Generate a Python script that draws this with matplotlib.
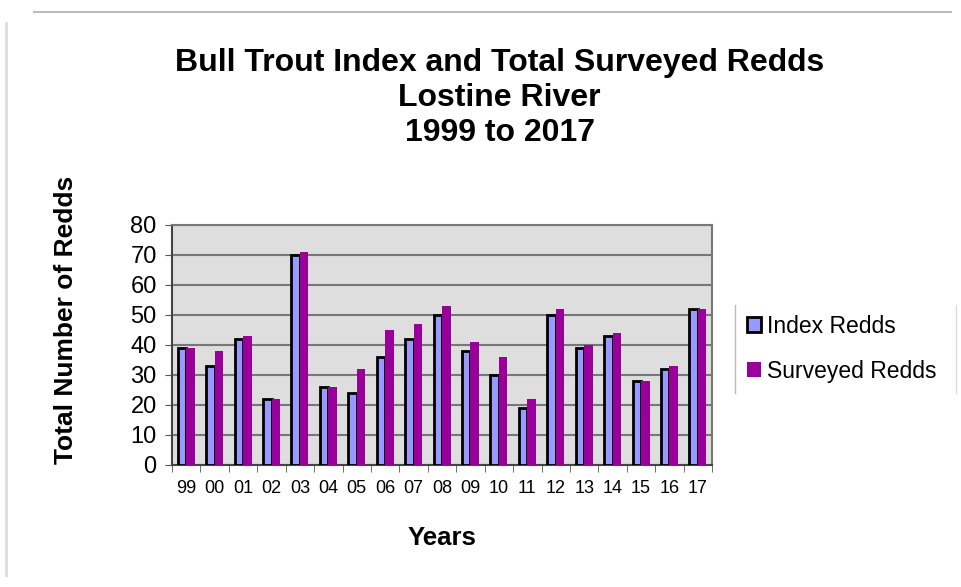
import numpy as np
import matplotlib.pyplot as plt
from matplotlib.lines import Line2D

plt.rcParams['font.family'] = ['Liberation Sans', 'DejaVu Sans']

years = ['99', '00', '01', '02', '03', '04', '05', '06', '07', '08',
         '09', '10', '11', '12', '13', '14', '15', '16', '17']
index_redds = [39, 33, 42, 22, 70, 26, 24, 36, 42, 50, 38, 30, 19, 50, 39, 43, 28, 32, 52]
surveyed_redds = [39, 38, 43, 22, 71, 26, 32, 45, 47, 53, 41, 36, 22, 52, 40, 44, 28, 33, 52]

fig = plt.figure(figsize=(9.61, 5.87), dpi=100)
ax = fig.add_axes([0.179, 0.208, 0.562, 0.409])
ax.set_facecolor('#dedede')

x = np.arange(len(years))
w = 0.3
ax.bar(x - w / 2, index_redds, w, color='#9999ff', edgecolor='black', linewidth=2,
       label='Index Redds', zorder=3)
ax.bar(x + w / 2, surveyed_redds, w, color='#990099', label='Surveyed Redds', zorder=3)

ax.set_xlim(-0.5, len(years) - 0.5)
ax.set_ylim(0, 80)
ax.set_yticks(range(0, 81, 10))
ax.tick_params(axis='y', labelsize=17, length=5, color='#555555', pad=6)
ax.set_xticks(x)
ax.set_xticklabels(years)
ax.tick_params(axis='x', labelsize=13, length=0, pad=11)
ax.set_xticks(np.arange(-0.5, len(years), 1), minor=True)
ax.tick_params(axis='x', which='minor', length=5, color='#555555')
ax.yaxis.grid(True, color='#777777', linewidth=1.5, zorder=0)
ax.set_axisbelow(True)
for s in ax.spines.values():
    s.set_color('#777777')
    s.set_linewidth(1.5)
ax.spines['left'].set_color('#444444')
ax.spines['bottom'].set_color('#444444')

ax.set_ylabel('Total Number of Redds', fontsize=19, fontweight='bold')
ax.yaxis.set_label_coords(-0.174, 0.604)
ax.set_xlabel('Years', fontsize=18.5, fontweight='bold', labelpad=21)
fig.text(0.52, 0.833, 'Bull Trout Index and Total Surveyed Redds\nLostine River\n1999 to 2017',
         ha='center', va='center', fontsize=23, fontweight='bold', linespacing=1.2)

leg = fig.legend(loc='center left', bbox_to_anchor=(0.768, 0.406), fontsize=16.5,
                 frameon=False, handlelength=0.6, handleheight=0.6, handletextpad=0.25,
                 labelspacing=0.95, borderaxespad=0)

# decorative frame lines
fig.add_artist(Line2D([0.035, 0.99], [0.98, 0.98], color='#bbbbbb', linewidth=1.5))
fig.add_artist(Line2D([0.006, 0.006], [0.02, 0.96], color='#dddddd', linewidth=2))
fig.add_artist(Line2D([0.765, 0.765], [0.33, 0.48], color='#bbbbbb', linewidth=1))
fig.add_artist(Line2D([0.995, 0.995], [0.33, 0.48], color='#dddddd', linewidth=1))

fig.savefig('out.png', dpi=100)
